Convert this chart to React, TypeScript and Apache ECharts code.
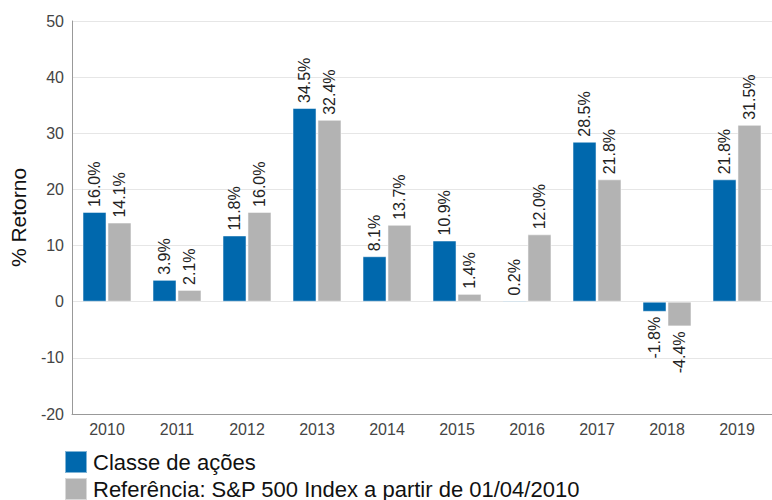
import React, { useEffect, useRef } from "react";
import * as echarts from "echarts";

const categories = ["2010", "2011", "2012", "2013", "2014", "2015", "2016", "2017", "2018", "2019"];
const classValues = [16.0, 3.9, 11.8, 34.5, 8.1, 10.9, 0.2, 28.5, -1.8, 21.8];
const benchValues = [14.1, 2.1, 16.0, 32.4, 13.7, 1.4, 12.0, 21.8, -4.4, 31.5];
const seriesNames = ["Classe de ações", "Referência: S&P 500 Index a partir de 01/04/2010"];
const FONT = "Liberation Sans, Arial, sans-serif";

function toData(vals: number[]) {
  return vals.map((v) => ({
    value: v,
    label: v < 0
      ? { position: "bottom", align: "right", verticalAlign: "middle" }
      : { position: "top", align: "left", verticalAlign: "middle" },
  }));
}

export default function App() {
  const ref = useRef<HTMLDivElement>(null);
  useEffect(() => {
    if (!ref.current) return;
    const chart = echarts.init(ref.current, undefined, { renderer: "svg" });
    const label = {
      show: true,
      rotate: 90,
      distance: 5,
      fontSize: 16,
      color: "#222",
      fontFamily: FONT,
      formatter: (p: any) => p.value.toFixed(1) + "%",
    };
    const legendBase = {
      left: 64,
      padding: 0,
      itemWidth: 22,
      itemHeight: 22,
      itemGap: 0,
      icon: "rect",
      textStyle: { fontSize: 22, color: "#111", fontFamily: FONT, padding: [0, 0, 0, 1] },
    };
    chart.setOption({
      animation: false,
      textStyle: { fontFamily: FONT },
      grid: { left: 71.5, top: 21, width: 704, bottom: 86, containLabel: false },
      legend: [
        { ...legendBase, top: 450, data: [seriesNames[0]] },
        { ...legendBase, top: 477, data: [seriesNames[1]] },
      ],
      xAxis: {
        type: "category",
        data: categories,
        axisLine: { onZero: false, lineStyle: { color: "#999" } },
        axisTick: { show: false },
        axisLabel: { fontSize: 16, color: "#444", margin: 7, fontFamily: FONT },
      },
      yAxis: {
        type: "value",
        min: -20,
        max: 50,
        interval: 10,
        name: "% Retorno",
        nameLocation: "middle",
        nameRotate: 90,
        nameGap: 43,
        nameTextStyle: { fontSize: 21, color: "#111", fontFamily: FONT },
        axisLine: { show: true, lineStyle: { color: "#999" } },
        axisTick: { show: false },
        axisLabel: { fontSize: 16, color: "#444", margin: 8, fontFamily: FONT },
        splitLine: { lineStyle: { color: "#e6e6e6" } },
      },
      series: [
        {
          name: seriesNames[0],
          type: "bar",
          data: toData(classValues),
          barWidth: 24,
          barGap: "4%",
          itemStyle: { color: "#0068ad", borderColor: "rgba(255,255,255,0.5)", borderWidth: 1 },
          label,
        },
        {
          name: seriesNames[1],
          type: "bar",
          data: toData(benchValues),
          barWidth: 24,
          barGap: "4%",
          itemStyle: { color: "#b3b3b3", borderColor: "rgba(255,255,255,0.5)", borderWidth: 1 },
          label,
        },
      ],
    });
    return () => chart.dispose();
  }, []);
  return <div ref={ref} style={{ width: 772, height: 500, position: "absolute", left: 0, top: 0 }} />;
}
